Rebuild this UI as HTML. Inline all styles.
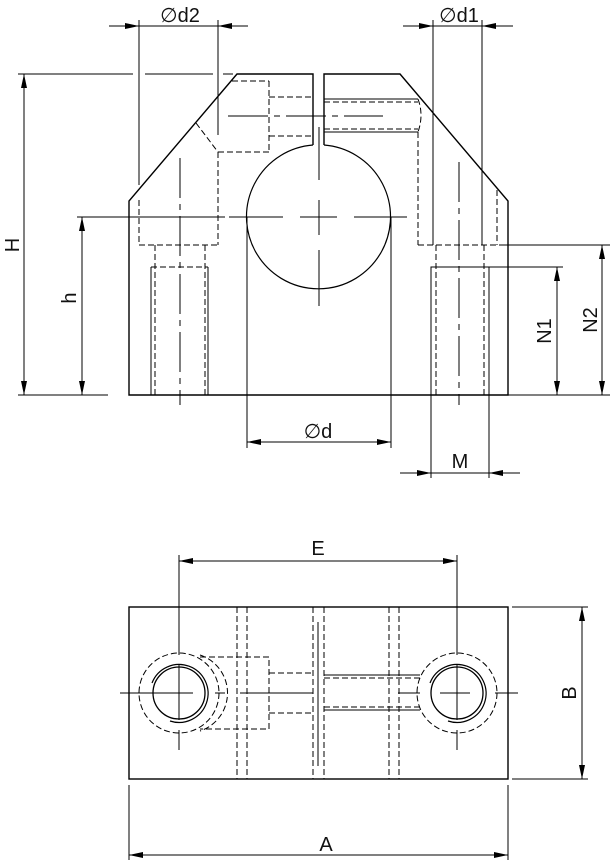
<!DOCTYPE html>
<html><head><meta charset="utf-8"><style>
html,body{margin:0;padding:0;background:#fff;}
svg{display:block;}
text{font-family:"Liberation Sans",sans-serif;font-size:20px;fill:#111;}
</style></head><body>
<svg width="612" height="863" viewBox="0 0 612 863" xmlns="http://www.w3.org/2000/svg">
<defs>
<marker id="a" viewBox="0 0 14 6" refX="14" refY="3" markerWidth="14" markerHeight="6" markerUnits="userSpaceOnUse" orient="auto"><path d="M0,0 L14,3 L0,6 z" fill="#000"/></marker>
</defs>
<g stroke="#000" stroke-width="1" fill="none">
<path d="M313,145 L313,74 L237,74 L129,201 L129,395 L508,395 L508,201 L400,74 L324,74 L324,145" stroke-width="1.4"/>
<path d="M313,145 A72,72 0 1,0 324,145" stroke-width="1.2"/>
<line x1="247" y1="217" x2="247" y2="448"/>
<line x1="391" y1="217" x2="391" y2="448"/>
<g stroke-dasharray="6,3">
<line x1="139" y1="200" x2="139" y2="245"/>
<line x1="139" y1="245" x2="219" y2="245"/>
<line x1="218" y1="152" x2="218" y2="245"/>
<line x1="155" y1="245" x2="155" y2="395"/>
<line x1="205" y1="245" x2="205" y2="395"/>
<line x1="151" y1="267" x2="208" y2="267"/>
<line x1="232" y1="81" x2="269" y2="81"/>
<line x1="269" y1="81" x2="269" y2="152"/>
<line x1="218" y1="152" x2="269" y2="152"/>
<line x1="269" y1="97" x2="313" y2="97"/>
<line x1="269" y1="136" x2="313" y2="136"/>
<line x1="196" y1="123" x2="218" y2="152"/>
<line x1="324" y1="102" x2="418" y2="102"/>
<line x1="324" y1="129" x2="418" y2="129"/>
<path d="M418,99 Q424,115 418,132"/>
<line x1="418" y1="132" x2="418" y2="245"/>
<line x1="418" y1="245" x2="500" y2="245"/>
<line x1="497" y1="190" x2="497" y2="245"/>
<line x1="436" y1="245" x2="436" y2="395"/>
<line x1="484" y1="245" x2="484" y2="395"/>
</g>
<line x1="151" y1="267" x2="151" y2="395"/>
<line x1="208" y1="267" x2="208" y2="395"/>
<line x1="324" y1="99" x2="418" y2="99"/>
<line x1="324" y1="132" x2="418" y2="132"/>
<path d="M431,400 L431,267 L563,267"/>
<line x1="489" y1="267" x2="489" y2="478"/>
<line x1="431" y1="400" x2="431" y2="478"/>
<line x1="500" y1="245" x2="610" y2="245"/>
<g stroke-dasharray="40,6,6,6">
<line x1="180" y1="158" x2="180" y2="405"/>
<line x1="459" y1="162" x2="459" y2="405"/>
<line x1="228" y1="116" x2="383" y2="116"/>
</g>
<line x1="319" y1="127" x2="319" y2="180"/>
<line x1="319" y1="200" x2="319" y2="235"/>
<line x1="319" y1="250" x2="319" y2="306"/>
<line x1="229" y1="217" x2="283" y2="217"/>
<line x1="300" y1="217" x2="337" y2="217"/>
<line x1="354" y1="217" x2="407" y2="217"/>
<line x1="77" y1="217" x2="225" y2="217"/>
<line x1="18" y1="74" x2="133" y2="74"/>
<line x1="145" y1="74" x2="213" y2="74"/>
<line x1="223" y1="74" x2="233" y2="74"/>
<line x1="18" y1="395" x2="108" y2="395"/>
<line x1="139" y1="20" x2="139" y2="185"/>
<line x1="218" y1="20" x2="218" y2="135"/>
<line x1="433" y1="20" x2="433" y2="245"/>
<line x1="482" y1="20" x2="482" y2="245"/>
<line x1="109" y1="26" x2="139" y2="26" marker-end="url(#a)"/>
<line x1="248" y1="26" x2="218" y2="26" marker-end="url(#a)"/>
<line x1="139" y1="26" x2="218" y2="26"/>
<line x1="403" y1="26" x2="433" y2="26" marker-end="url(#a)"/>
<line x1="513" y1="26" x2="482" y2="26" marker-end="url(#a)"/>
<line x1="433" y1="26" x2="482" y2="26"/>
<line x1="24" y1="235" x2="24" y2="74" marker-end="url(#a)"/>
<line x1="24" y1="235" x2="24" y2="395" marker-end="url(#a)"/>
<line x1="82" y1="300" x2="82" y2="217" marker-end="url(#a)"/>
<line x1="82" y1="300" x2="82" y2="395" marker-end="url(#a)"/>
<line x1="557" y1="330" x2="557" y2="267" marker-end="url(#a)"/>
<line x1="557" y1="330" x2="557" y2="395" marker-end="url(#a)"/>
<line x1="602" y1="320" x2="602" y2="245" marker-end="url(#a)"/>
<line x1="602" y1="320" x2="602" y2="395" marker-end="url(#a)"/>
<line x1="508" y1="395" x2="610" y2="395"/>
<line x1="319" y1="442" x2="247" y2="442" marker-end="url(#a)"/>
<line x1="319" y1="442" x2="391" y2="442" marker-end="url(#a)"/>
<line x1="400" y1="473" x2="431" y2="473" marker-end="url(#a)"/>
<line x1="520" y1="473" x2="489" y2="473" marker-end="url(#a)"/>
<line x1="431" y1="473" x2="489" y2="473"/>

<rect x="129" y="607" width="379" height="172" stroke-width="1.4"/>
<g stroke-dasharray="6,3">
<line x1="237" y1="607" x2="237" y2="779"/>
<line x1="247" y1="607" x2="247" y2="779"/>
<line x1="313" y1="607" x2="313" y2="779"/>
<line x1="324" y1="607" x2="324" y2="779"/>
<line x1="389" y1="607" x2="389" y2="779"/>
<line x1="399" y1="607" x2="399" y2="779"/>
<circle cx="179" cy="693" r="40"/>
<path d="M200,655 A40,40 0 0,1 200,731"/>
<path d="M200,657 L269,657 L269,729 L200,729"/>
<line x1="269" y1="673" x2="313" y2="673"/>
<line x1="269" y1="713" x2="313" y2="713"/>
<circle cx="457" cy="693" r="40"/>
<line x1="324" y1="678" x2="420" y2="678"/>
<line x1="324" y1="707" x2="420" y2="707"/>
</g>
<line x1="318" y1="622" x2="318" y2="766"/>
<line x1="324" y1="675" x2="420" y2="675"/>
<line x1="324" y1="710" x2="420" y2="710"/>
<circle cx="179" cy="693" r="26" stroke-width="1.3"/>
<path d="M152,683 A29,29 0 1,1 170,721" stroke-width="1.2"/>
<circle cx="457" cy="693" r="26" stroke-width="1.3"/>
<path d="M430,683 A29,29 0 1,1 448,721" stroke-width="1.2"/>
<line x1="120" y1="693" x2="170" y2="693"/>
<line x1="165" y1="693" x2="193" y2="693"/>
<line x1="215" y1="693" x2="225" y2="693"/>
<line x1="240" y1="693" x2="313" y2="693"/>
<line x1="398" y1="693" x2="420" y2="693"/>
<line x1="440" y1="693" x2="470" y2="693"/>
<line x1="495" y1="693" x2="518" y2="693"/>
<line x1="179" y1="555" x2="179" y2="655"/>
<line x1="179" y1="665" x2="179" y2="720"/>
<line x1="179" y1="730" x2="179" y2="750"/>
<line x1="457" y1="555" x2="457" y2="655"/>
<line x1="457" y1="665" x2="457" y2="720"/>
<line x1="457" y1="730" x2="457" y2="750"/>
<line x1="318" y1="561" x2="179" y2="561" marker-end="url(#a)"/>
<line x1="318" y1="561" x2="457" y2="561" marker-end="url(#a)"/>
<line x1="512" y1="607" x2="588" y2="607"/>
<line x1="512" y1="779" x2="588" y2="779"/>
<line x1="582" y1="693" x2="582" y2="607" marker-end="url(#a)"/>
<line x1="582" y1="693" x2="582" y2="779" marker-end="url(#a)"/>
<line x1="129" y1="785" x2="129" y2="860"/>
<line x1="508" y1="785" x2="508" y2="860"/>
<line x1="318" y1="855" x2="129" y2="855" marker-end="url(#a)"/>
<line x1="318" y1="855" x2="508" y2="855" marker-end="url(#a)"/>
</g>
<text x="180" y="22" text-anchor="middle">∅d2</text>
<text x="459" y="22" text-anchor="middle">∅d1</text>
<text x="318" y="438" text-anchor="middle">∅d</text>
<text x="460" y="468" text-anchor="middle">M</text>
<text x="318" y="555" text-anchor="middle">E</text>
<text x="326" y="851" text-anchor="middle">A</text>
<text transform="translate(19,245) rotate(-90)" text-anchor="middle">H</text>
<text transform="translate(76,298) rotate(-90)" text-anchor="middle">h</text>
<text transform="translate(551,331) rotate(-90)" text-anchor="middle">N1</text>
<text transform="translate(597,320) rotate(-90)" text-anchor="middle">N2</text>
<text transform="translate(576,693) rotate(-90)" text-anchor="middle">B</text>
</svg>
</body></html>
